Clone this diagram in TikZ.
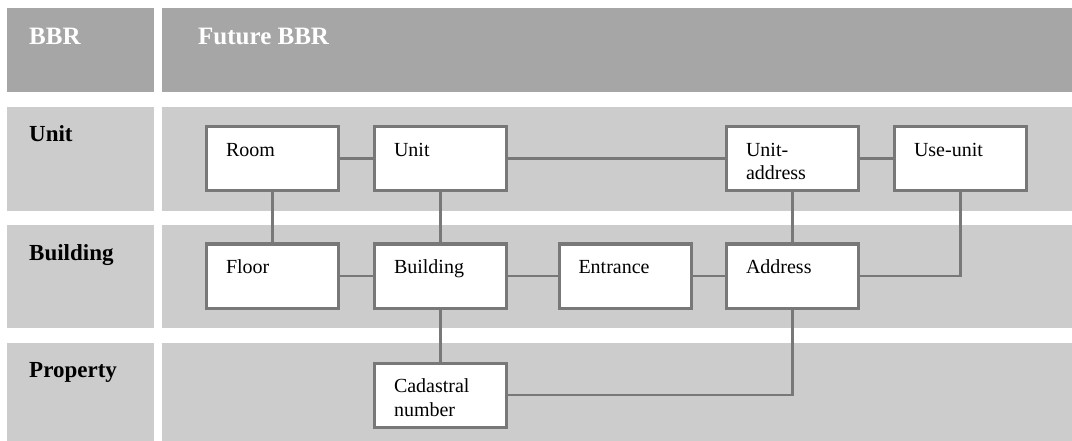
\documentclass[tikz,border=0pt]{standalone}
\usepackage{fontspec}
\setmainfont{Liberation Serif}
\usetikzlibrary{positioning}
\definecolor{headGray}{RGB}{166,166,166}
\definecolor{rowGray}{RGB}{204,204,204}
\definecolor{lineGray}{RGB}{120,120,120}
\newcommand{\boxtext}[1]{\parbox[c][38.6pt][t]{93pt}{\raggedright\strut #1}}
\tikzset{
  entity/.style={rectangle, draw=lineGray, line width=3pt, fill=white, minimum width=132pt, minimum height=64pt, inner sep=0pt, font=\fontsize{20}{24}\selectfont},
  header/.style={anchor=base west, inner sep=0pt, text=white, font=\fontsize{25}{30}\selectfont\bfseries},
  level/.style={anchor=base west, inner sep=0pt, font=\fontsize{23}{28}\selectfont\bfseries},
  link/.style={draw=lineGray, line width=2.6pt}
}
\begin{document}
\begin{tikzpicture}[x=1pt, y=-1pt]
      \useasboundingbox (0,0) rectangle (1072,441);

      % bands
      \fill[headGray] (7,8) rectangle (154,92);
      \fill[headGray] (162,8) rectangle (1072,92);
      \foreach \top/\bot in {107/211, 225/328, 343/441} {
        \fill[rowGray] (7,\top) rectangle (154,\bot);
        \fill[rowGray] (162,\top) rectangle (1072,\bot);
      }

      \node[header] (hdrBBR) at (29,45) {BBR};
      \node[header] (hdrFuture) at (198,45) {Future BBR};
      \node[level] (lvlUnit) at (29,142) {Unit};
      \node[level] (lvlBuilding) at (29,260) {Building};
      \node[level] (lvlProperty) at (29,377) {Property};

      % unit level
      \node[entity] (room) at (272.5,158.5) {\boxtext{Room}};
      \node[entity] (unit) at (440.5,158.5) {\boxtext{Unit}};
      \node[entity] (unitAddress) at (792.5,158.5) {\boxtext{Unit-\\address}};
      \node[entity] (useUnit) at (960.5,158.5) {\boxtext{Use-unit}};

      % building level
      \node[entity] (floor) at (272.5,276) {\boxtext{Floor}};
      \node[entity] (building) at (440.5,276) {\boxtext{Building}};
      \node[entity] (entrance) at (625,276) {\boxtext{Entrance}};
      \node[entity] (address) at (792.5,276) {\boxtext{Address}};

      % property level
      \node[entity] (cadastral) at (440.5,395) {\boxtext{Cadastral\\number}};

      \draw[link] (room) -- (unit);
      \draw[link] (unit) -- (unitAddress);
      \draw[link] (unitAddress) -- (useUnit);
      \draw[link] (room) -- (floor);
      \draw[link] (unit) -- (building);
      \draw[link] (unitAddress) -- (address);
      \draw[link] (floor) -- (building);
      \draw[link] (building) -- (entrance);
      \draw[link] (entrance) -- (address);
      \draw[link] (building) -- (cadastral);
      \draw[link] (useUnit.south) |- (address.east);
      \draw[link] (address.south) |- (cadastral.east);
\end{tikzpicture}
\end{document}
